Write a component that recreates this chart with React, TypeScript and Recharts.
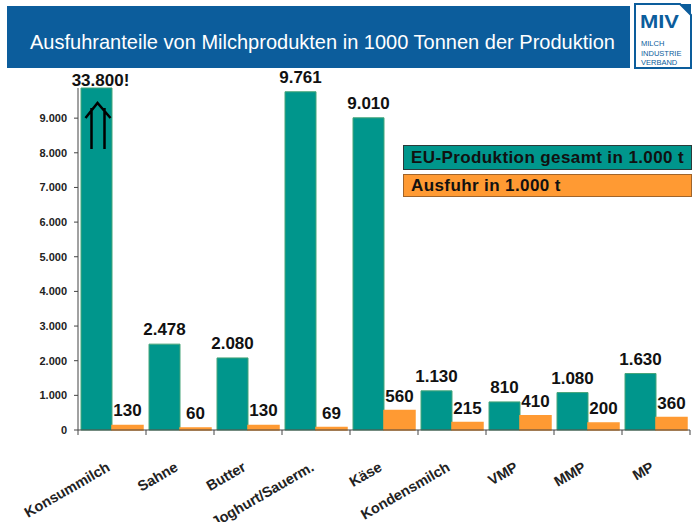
import { BarChart, Bar, XAxis, YAxis, LabelList } from 'recharts';

const categories = ['Konsummilch', 'Sahne', 'Butter', 'Joghurt/Sauerm.', 'Käse', 'Kondensmilch', 'VMP', 'MMP', 'MP'];
const production = [33800, 2478, 2080, 9761, 9010, 1130, 810, 1080, 1630];
const exportsOut = [130, 60, 130, 69, 560, 215, 410, 200, 360];
const yTicks = [0, 1000, 2000, 3000, 4000, 5000, 6000, 7000, 8000, 9000];

const title = 'Ausfuhranteile von Milchprodukten in 1000 Tonnen der Produktion';
const productionName = 'EU-Produktion gesamt in 1.000 t';
const exportName = 'Ausfuhr in 1.000 t';
const logoLines = ['MILCH', 'INDUSTRIE', 'VERBAND'];

const W = 692;
const H = 522;
const Y_MAX = 9870;
const Y_AXIS_W = 78;
const RIGHT = 2;
const BAND = (W - Y_AXIS_W - RIGHT) / categories.length;

const TEAL = '#00968c';
const TEAL_EDGE = '#47a57a';
const ORANGE = '#ff9a33';
const BLUE = '#0c5d9c';
const FONT = '"Liberation Sans", Arial, sans-serif';

const data = categories.map((name, i) => ({
  name,
  production: Math.min(production[i], Y_MAX),
  productionLabel: production[i],
  exportsOut: exportsOut[i],
}));

const fmt = (v: number) => String(v).replace(/\B(?=(\d{3})+(?!\d))/g, '.');

function ValueLabel(props: any) {
  const { x, y, width, value } = props;
  const cx = x + width / 2;
  if (value > Y_MAX) {
    // bar runs off the chart: show the real value and an arrow
    return (
      <g>
        <text x={cx + 4} y={y - 2} textAnchor="middle" fontFamily={FONT} fontWeight="bold" fontSize={17} fill="#111">
          {fmt(value)}!
        </text>
        <path
          d={`M${cx - 11},${y + 30} L${cx + 1},${y + 15} L${cx + 14},${y + 30} M${cx - 5},${y + 20} L${cx - 5},${y + 61} M${cx + 8},${y + 20} L${cx + 8},${y + 61}`}
          stroke="#000"
          strokeWidth={2.5}
          fill="none"
        />
      </g>
    );
  }
  return (
    <text x={cx} y={y - 9} textAnchor="middle" fontFamily={FONT} fontWeight="bold" fontSize={17} fill="#111">
      {fmt(value)}
    </text>
  );
}

function CategoryTick(props: any) {
  const { x, y, payload, index } = props;
  const half = BAND / 2;
  const tx = x - 1;
  const ty = y + 40;
  return (
    <g>
      <line x1={x - half} x2={x - half} y1={y} y2={y + 5} stroke="#444" />
      {index === categories.length - 1 && <line x1={x + half} x2={x + half} y1={y} y2={y + 5} stroke="#444" />}
      <text
        x={tx}
        y={ty}
        transform={`rotate(-30, ${tx}, ${ty})`}
        textAnchor="end"
        fontFamily={FONT}
        fontWeight="bold"
        fontSize={14.5}
        fill="#222"
      >
        {payload.value}
      </text>
    </g>
  );
}

function Header() {
  return (
    <svg width={W} height={72} style={{ position: 'absolute', left: 0, top: 0 }}>
      <rect x={7} y={6} width={623} height={62} fill={BLUE} />
      <text x={30} y={49} fontFamily={FONT} fontSize={21} fill="#fff" textLength={585} lengthAdjust="spacingAndGlyphs">
        {title}
      </text>
      <path d="M635,4 L680,4 L691,15 L691,68 L635,68 Z" fill="#fff" stroke={BLUE} strokeWidth={2} />
      <path d="M680,4 L691,4 L691,15 Z" fill={BLUE} />
      <text x={640} y={28} fontFamily={FONT} fontWeight="bold" fontSize={19} fill={BLUE} textLength={39} lengthAdjust="spacingAndGlyphs">
        MIV
      </text>
      <text fontFamily={FONT} fontSize={7.5} fill={BLUE}>
        {logoLines.map((line, i) => (
          <tspan key={line} x={641} y={46 + i * 9.5}>
            {line}
          </tspan>
        ))}
      </text>
    </svg>
  );
}

function LegendBoxes() {
  const box = {
    position: 'absolute' as const,
    left: 403,
    width: 289,
    boxSizing: 'border-box' as const,
    paddingLeft: 7,
    fontFamily: FONT,
    fontWeight: 'bold' as const,
    fontSize: 17,
    letterSpacing: 0.4,
    color: '#111',
    whiteSpace: 'nowrap' as const,
    overflow: 'hidden',
  };
  return (
    <>
      <div style={{ ...box, top: 145, height: 25, lineHeight: '23px', background: TEAL, border: '1px solid #2b3a3a' }}>
        {productionName}
      </div>
      <div style={{ ...box, top: 174, height: 23, lineHeight: '21px', background: ORANGE, border: '1px solid #a0642a' }}>
        {exportName}
      </div>
    </>
  );
}

export default function App() {
  return (
    <div style={{ position: 'absolute', left: 0, top: 0, width: W, height: H, background: '#fff', overflow: 'hidden' }}>
      <Header />
      <BarChart
        width={W}
        height={H}
        data={data}
        margin={{ top: 88, right: RIGHT, left: 0, bottom: 0 }}
        barCategoryGap={3}
        barGap={0}
      >
        <XAxis
          dataKey="name"
          height={92}
          interval={0}
          tickLine={false}
          tickSize={0}
          tickMargin={0}
          axisLine={{ stroke: '#444' }}
          tick={<CategoryTick />}
        />
        <YAxis
          width={Y_AXIS_W}
          domain={[0, Y_MAX]}
          ticks={yTicks}
          tickFormatter={fmt}
          tickSize={4}
          tickMargin={7}
          axisLine={{ stroke: '#444' }}
          tickLine={{ stroke: '#444' }}
          tick={{ fill: '#222', fontFamily: FONT, fontWeight: 'bold', fontSize: 11 }}
        />
        <Bar dataKey="production" name={productionName} fill={TEAL} stroke={TEAL_EDGE} strokeWidth={1} isAnimationActive={false}>
          <LabelList dataKey="productionLabel" content={<ValueLabel />} />
        </Bar>
        <Bar dataKey="exportsOut" name={exportName} fill={ORANGE} stroke={ORANGE} strokeWidth={1.5} isAnimationActive={false}>
          <LabelList dataKey="exportsOut" content={<ValueLabel />} />
        </Bar>
      </BarChart>
      <LegendBoxes />
    </div>
  );
}
